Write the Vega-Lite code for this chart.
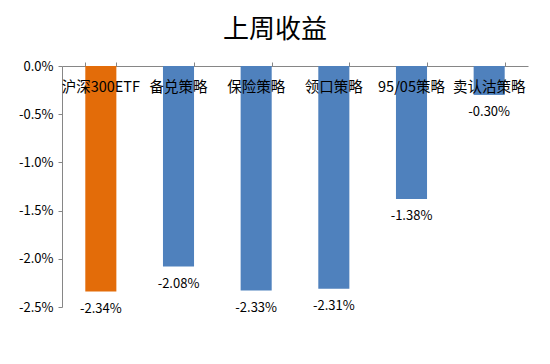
{
  "$schema": "https://vega.github.io/schema/vega-lite/v6.json",
  "width": 466,
  "height": 241,
  "autosize": "none",
  "padding": {"left": 62, "top": 66, "right": 22, "bottom": 57},
  "background": "white",
  "title": {
    "text": "上周收益",
    "font": "Noto Sans CJK SC",
    "fontSize": 26,
    "fontWeight": "normal",
    "color": "#000000",
    "anchor": "middle",
    "offset": 17,
    "dx": -20,
    "frame": "group"
  },
  "data": {
    "values": [
      {"name": "沪深300ETF", "v": -0.0234, "type": "etf"},
      {"name": "备兑策略", "v": -0.0208, "type": "s"},
      {"name": "保险策略", "v": -0.0233, "type": "s"},
      {"name": "领口策略", "v": -0.0231, "type": "s"},
      {"name": "95/05策略", "v": -0.0138, "type": "s"},
      {"name": "卖认沽策略", "v": -0.0030, "type": "s"}
    ]
  },
  "transform": [
    {"calculate": "replace(format(datum.v, '.2%'), '\u2212', '-')", "as": "lbl"}
  ],
  "encoding": {
    "x": {
      "field": "name",
      "type": "nominal",
      "sort": null,
      "scale": {"paddingInner": 0.6, "paddingOuter": 0.3},
      "axis": {
        "orient": "top",
        "title": null,
        "labels": false,
        "tickBand": "extent",
        "tickSize": 4,
        "tickColor": "#868686",
        "domainColor": "#868686"
      }
    }
  },
  "layer": [
    {
      "mark": {"type": "bar"},
      "encoding": {
        "y": {
          "field": "v",
          "type": "quantitative",
          "scale": {"domain": [-0.025, 0], "nice": false},
          "axis": {
            "title": null,
            "values": [0, -0.005, -0.01, -0.015, -0.02, -0.025],
            "labelExpr": "replace(format(datum.value, '.1%'), '\u2212', '-')",
            "grid": false,
            "tickSize": 4,
            "tickColor": "#868686",
            "domainColor": "#868686",
            "labelFont": "Noto Sans CJK SC",
            "labelFontSize": 13,
            "labelColor": "#000000",
            "labelPadding": 5
          }
        },
        "color": {
          "field": "type",
          "type": "nominal",
          "scale": {"domain": ["etf", "s"], "range": ["#E36C09", "#4F81BD"]},
          "legend": null
        }
      }
    },
    {
      "mark": {"type": "text", "baseline": "top", "dy": 11, "font": "Noto Sans CJK SC", "fontSize": 13, "color": "#000000"},
      "encoding": {
        "y": {"field": "v", "type": "quantitative"},
        "text": {"field": "lbl"}
      }
    },
    {
      "mark": {"type": "text", "baseline": "middle", "dy": 22, "font": "Noto Sans CJK SC", "fontSize": 14.5, "color": "#000000"},
      "encoding": {
        "y": {"datum": 0, "type": "quantitative"},
        "text": {"field": "name"}
      }
    }
  ],
  "config": {"view": {"stroke": null}}
}
